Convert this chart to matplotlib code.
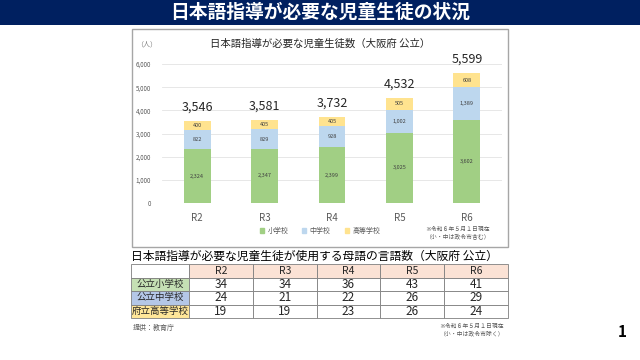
import matplotlib
matplotlib.use("Agg")
import matplotlib.pyplot as plt
from matplotlib.patches import Rectangle, Patch

plt.rcParams['font.family'] = ['Noto Sans CJK JP', 'DejaVu Sans']

years = ["R2", "R3", "R4", "R5", "R6"]
elementary = [2324, 2347, 2399, 3025, 3602]
junior = [822, 829, 928, 1002, 1389]
high = [400, 405, 405, 505, 608]
totals = [3546, 3581, 3732, 4532, 5599]
series_names = ["小学校", "中学校", "高等学校"]
yticks = [0, 1000, 2000, 3000, 4000, 5000, 6000]

row_labels = ["公立小学校", "公立中学校", "府立高等学校"]
lang_counts = [
    [34, 34, 36, 43, 41],
    [24, 21, 22, 26, 29],
    [19, 19, 23, 26, 24],
]

green = "#a1cf84"
blue = "#bdd7ee"
yellow = "#ffe38f"
W, H = 640, 360


def px(x, y, w, h):
    return [x / W, 1 - (y + h) / H, w / W, h / H]


fig = plt.figure(figsize=(6.4, 3.6), dpi=100)

# header bar
fig.patches.append(Rectangle((0, 1 - 25 / H), 1, 25 / H, transform=fig.transFigure,
                             facecolor="#002060", edgecolor="none", zorder=-2))
fig.text(0.5, 1 - 12.5 / H, "日本語指導が必要な児童生徒の状況", color="white",
         fontsize=13.5, fontweight="bold", ha="center", va="center")

# chart frame
fig.patches.append(Rectangle((132 / W, 1 - 247 / H), 376 / W, 218 / H,
                             transform=fig.transFigure, facecolor="white",
                             edgecolor="#a6a6a6", lw=1, zorder=-2))
fig.text(320 / W, 1 - 44 / H, "日本語指導が必要な児童生徒数（大阪府 公立）",
         fontsize=7.5, ha="center", va="center", color="#262626")
fig.text(136 / W, 1 - 44 / H, "（人）", fontsize=5, ha="left", va="center", color="#7f7f7f")

ax = fig.add_axes(px(162, 64, 340, 139))
ax.patch.set_alpha(0)
x = range(len(years))
bw = 0.4
ax.bar(x, elementary, bw, color=green, zorder=3)
bottom2 = elementary
ax.bar(x, junior, bw, bottom=bottom2, color=blue, zorder=3)
bottom3 = [a + b for a, b in zip(elementary, junior)]
ax.bar(x, high, bw, bottom=bottom3, color=yellow, zorder=3)

for i in x:
    ax.text(i, elementary[i] / 2, f"{elementary[i]:,}", ha="center", va="center",
            fontsize=4, color="#404040", zorder=4)
    ax.text(i, bottom2[i] + junior[i] / 2, f"{junior[i]:,}", ha="center", va="center",
            fontsize=4, color="#404040", zorder=4)
    ax.text(i, bottom3[i] + high[i] / 2, f"{high[i]:,}", ha="center", va="center",
            fontsize=4, color="#404040", zorder=4)
    ax.annotate(f"{totals[i]:,}", (i, totals[i]), xytext=(0, 10), textcoords="offset points",
                ha="center", va="center", fontsize=9, color="#262626", annotation_clip=False)

ax.set_xlim(-0.52, 4.52)
ax.set_ylim(0, 6000)
ax.set_yticks(yticks)
ax.set_yticklabels([f"{v:,}" for v in yticks], fontsize=4.5, color="#595959")
ax.set_xticks(list(x))
ax.set_xticklabels(years, fontsize=7, color="#595959")
ax.tick_params(axis="y", length=0, pad=8)
ax.tick_params(axis="x", length=0, pad=7)
ax.yaxis.grid(True, color="#e3e3e3", lw=0.6, zorder=0)
for s in ax.spines.values():
    s.set_visible(False)
ax.axhline(0, color="#d9d9d9", lw=0.6, zorder=1)

handles = [Patch(color=c) for c in (green, blue, yellow)]
fig.legend(handles, series_names, loc="center", bbox_to_anchor=(320 / W, 1 - 231 / H),
           ncol=3, fontsize=5, frameon=False, handlelength=0.6, handleheight=0.6,
           columnspacing=2.0, handletextpad=0.5, labelcolor="#595959")
fig.text(458 / W, 1 - 233 / H, "※令和６年５月１日現在\n（小・中は政令市含む）", fontsize=4.2,
         ha="center", va="center", color="#595959", linespacing=1.3)

# table
fig.text(131 / W, 1 - 256 / H, "日本語指導が必要な児童生徒が使用する母語の言語数（大阪府 公立）",
         fontsize=8.5, ha="left", va="center", color="#000000")
tax = fig.add_axes(px(131, 264, 377, 54))
tax.axis("off")
cell_text = [[""] + years] + [[lab] + [str(v) for v in row] for lab, row in zip(row_labels, lang_counts)]
peach = "#fbe2d5"
label_cols = ["#c5e0b4", "#b4c7e7", "#ffe699"]
colors = [["white"] + [peach] * 5] + [[c] + ["white"] * 5 for c in label_cols]
tbl = tax.table(cellText=cell_text, cellColours=colors, bbox=[0, 0, 1, 1],
                colWidths=[58] + [63.8] * 5, cellLoc="center")
tbl.auto_set_font_size(False)
for (r, c), cell in tbl.get_celld().items():
    cell.set_edgecolor("#7f7f7f")
    cell.set_linewidth(0.6)
    t = cell.get_text()
    t.set_color("#262626")
    if c == 0:
        t.set_fontsize(6.8)
    elif r == 0:
        t.set_fontsize(7.5)
    else:
        t.set_fontsize(8.5)

fig.text(133 / W, 1 - 328 / H, "提供：教育庁", fontsize=5, ha="left", va="center", color="#595959")
fig.text(472 / W, 1 - 330 / H, "※令和６年５月１日現在\n（小・中は政令市除く）", fontsize=4.2,
         ha="center", va="center", color="#595959", linespacing=1.3)
fig.text(622 / W, 1 - 332 / H, "1", fontsize=11, fontweight="bold", ha="center", va="center")

fig.savefig("out.png", dpi=100)
